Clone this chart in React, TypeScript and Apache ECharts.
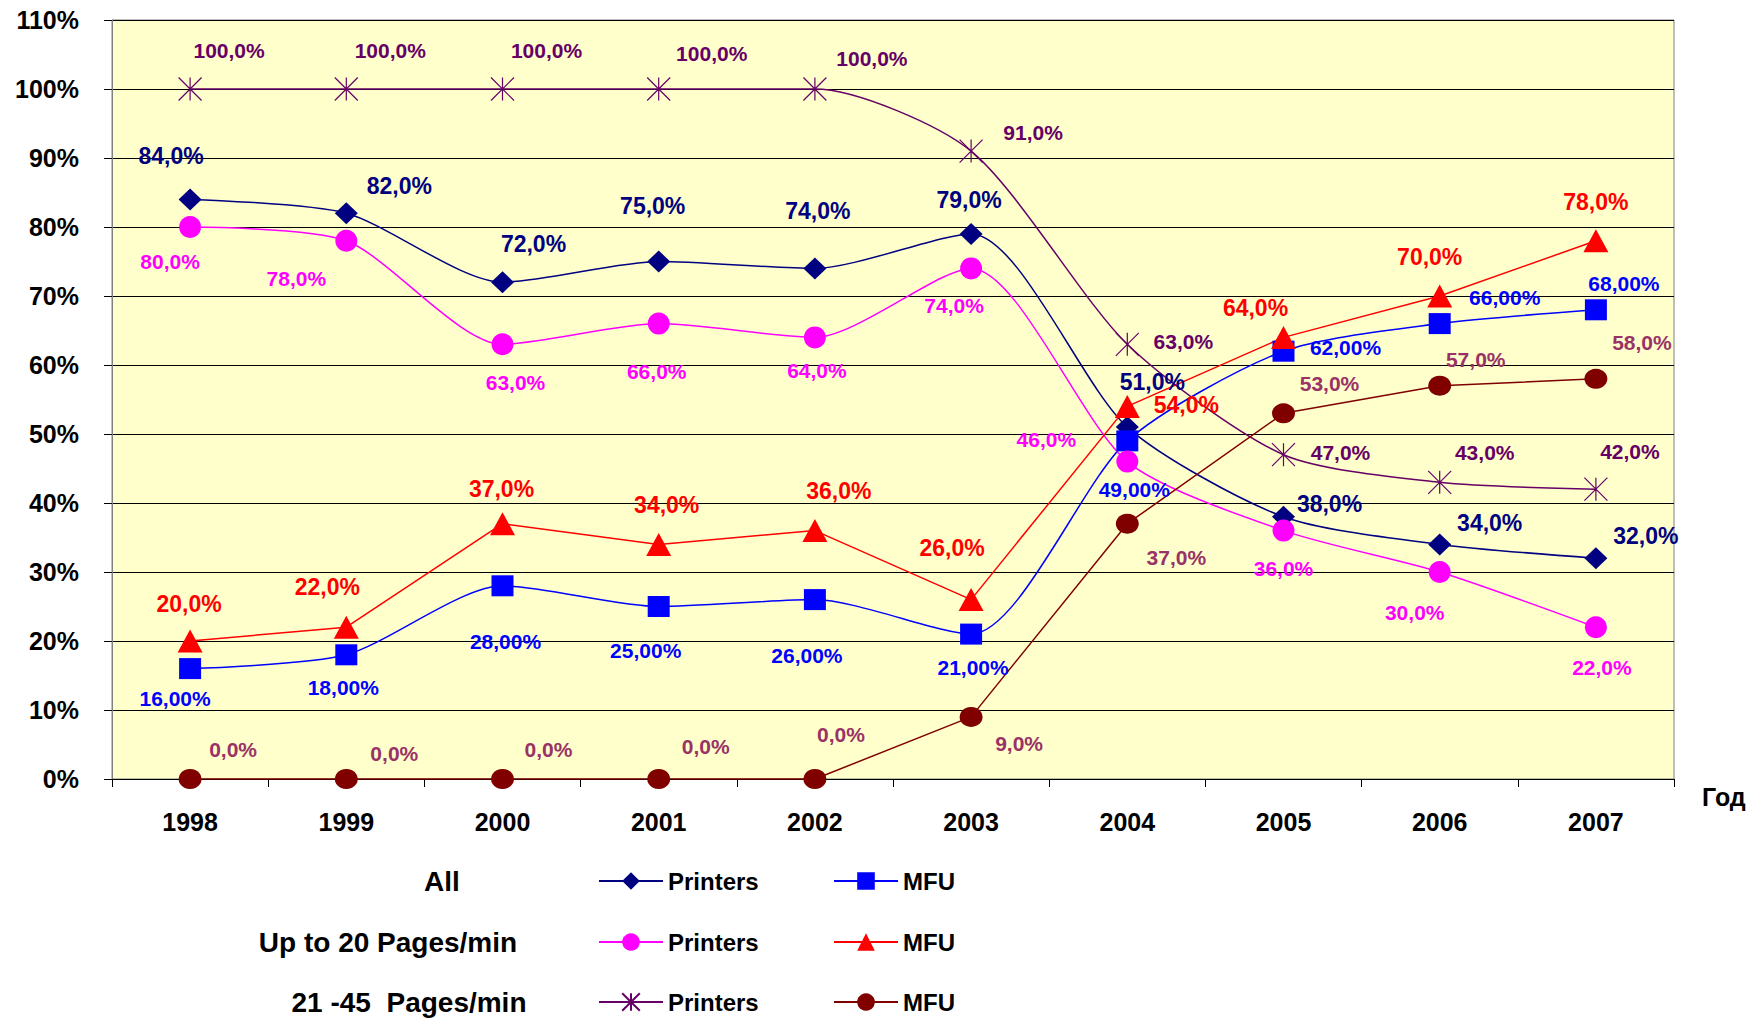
import React, { useEffect, useRef } from "react";
import * as echarts from "echarts";

// ---- data ----
const years = ["1998", "1999", "2000", "2001", "2002", "2003", "2004", "2005", "2006", "2007"];
const allPrinters = [84, 82, 72, 75, 74, 79, 51, 38, 34, 32];
const allMfu = [16, 18, 28, 25, 26, 21, 49, 62, 66, 68];
const upTo20Printers = [80, 78, 63, 66, 64, 74, 46, 36, 30, 22];
const upTo20Mfu = [20, 22, 37, 34, 36, 26, 54, 64, 70, 78];
const mid45Printers = [100, 100, 100, 100, 100, 91, 63, 47, 43, 42];
const mid45Mfu = [0, 0, 0, 0, 0, 9, 37, 53, 57, 58];
const yMin = 0;
const yMax = 110;
const yStep = 10;
const rowTitles = ["All", "Up to 20 Pages/min", "21 -45  Pages/min"];
const axisName = "Год";

// ---- layout (label offsets from each marker, px) ----
const offAllPrinters = [[-19, -43], [53, -27], [31, -38], [-6, -56], [3, -57], [-2, -34], [25, -45], [46, -13], [50, -21], [50, -22]];
const offAllMfu = [[-15, 30], [-3, 33], [3, 56], [-13, 44], [-8, 56], [2, 33], [7, 49], [62, -4], [65, -26], [28, -26]];
const offUp20Printers = [[-20, 34], [-50, 38], [13, 38], [-2, 48], [2, 33], [-17, 37], [-81, -22], [0, 38], [-25, 40], [6, 40]];
const offUp20Mfu = [[-1, -37], [-19, -40], [-1, -35], [8, -39], [24, -40], [-19, -52], [59, -1], [-28, -29], [-10, -39], [0, -39]];
const offMidPrinters = [[39, -39], [44, -39], [44, -39], [53, -36], [57, -31], [62, -19], [56, -3], [57, -2], [45, -30], [34, -38]];
const offMidMfu = [[43, -30], [48, -26], [46, -30], [47, -33], [26, -45], [48, 27], [49, 34], [46, -30], [36, -26], [46, -36]];

const FONT = "Arial, 'Liberation Sans', sans-serif";
const STAR = "path://M0,0L20,20M20,0L0,20M10,0L10,20";

function fmt(v: number, d: number) {
  return v.toFixed(d).replace(".", ",") + "%";
}

function mkSeries(o: any) {
  return {
    name: o.name,
    type: "line",
    smooth: o.smooth,
    symbol: o.symbol,
    symbolSize: o.size,
    lineStyle: { color: o.color, width: 1.5 },
    itemStyle: o.itemStyle || { color: o.color },
    label: {
      show: true,
      position: "inside",
      align: "center",
      verticalAlign: "middle",
      color: o.labelColor,
      fontSize: o.fontSize,
      fontWeight: "bold",
      fontFamily: FONT,
      formatter: (p: any) => fmt(p.value, o.decimals),
    },
    data: o.values.map((v: number, i: number) => ({ value: v, label: { offset: o.offsets[i] } })),
    z: 3,
  };
}

export default function App() {
  const ref = useRef<HTMLDivElement>(null);
  useEffect(() => {
    if (!ref.current) return;
    const chart = echarts.init(ref.current, undefined, { renderer: "svg" });
    const series = [
      mkSeries({ name: "All Printers", values: allPrinters, offsets: offAllPrinters, color: "#000080", symbol: "diamond", size: [23, 22], labelColor: "#000080", fontSize: 23, decimals: 1, smooth: 0.25 }),
      mkSeries({ name: "All MFU", values: allMfu, offsets: offAllMfu, color: "#0000FF", symbol: "rect", size: [22, 21], labelColor: "#0000FF", fontSize: 21, decimals: 2, smooth: 0.25 }),
      mkSeries({ name: "Up20 Printers", values: upTo20Printers, offsets: offUp20Printers, color: "#FF00FF", symbol: "circle", size: 22, labelColor: "#FF00FF", fontSize: 21, decimals: 1, smooth: 0.25 }),
      mkSeries({ name: "Up20 MFU", values: upTo20Mfu, offsets: offUp20Mfu, color: "#FF0000", symbol: "triangle", size: [25, 23], labelColor: "#FF0000", fontSize: 23, decimals: 1, smooth: false }),
      mkSeries({ name: "Mid Printers", values: mid45Printers, offsets: offMidPrinters, color: "#660066", symbol: STAR, size: 23, labelColor: "#660066", fontSize: 21, decimals: 1, smooth: 0.25, itemStyle: { color: "rgba(0,0,0,0)", borderColor: "#660066", borderWidth: 1.2 } }),
      mkSeries({ name: "Mid MFU", values: mid45Mfu, offsets: offMidMfu, color: "#800000", symbol: "circle", size: [23, 20], labelColor: "#993366", fontSize: 21, decimals: 1, smooth: false }),
    ];
    const rowY = [881, 942, 1002];
    const rowX = [442, 388, 409];
    const legendNames = [["All Printers", "All MFU"], ["Up20 Printers", "Up20 MFU"], ["Mid Printers", "Mid MFU"]];
    const legends: any[] = [];
    legendNames.forEach((pair, r) => {
      pair.forEach((nm, c) => {
        legends.push({
          data: [nm],
          left: c === 0 ? 598 : 833,
          top: rowY[r] - 12,
          padding: 0,
          itemWidth: 64,
          itemHeight: 22,
          selectedMode: false,
          formatter: (n: string) => (n.endsWith("Printers") ? "Printers" : "MFU"),
          textStyle: { fontSize: 24, fontWeight: "bold", color: "#000", fontFamily: FONT },
        });
      });
    });
    const option: any = {
      animation: false,
      backgroundColor: "#fff",
      grid: {
        left: 112,
        top: 20,
        right: 84,
        bottom: 243,
        show: true,
        backgroundColor: "#FFFFCC",
        borderColor: "#808080",
        borderWidth: 1,
      },
      xAxis: {
        type: "category",
        data: years,
        boundaryGap: true,
        name: axisName,
        nameLocation: "end",
        nameGap: 28,
        nameTextStyle: { fontSize: 25, fontWeight: "bold", color: "#000", fontFamily: FONT, align: "left", verticalAlign: "top", padding: [5, 0, 0, 0] },
        axisLine: { show: true, lineStyle: { color: "#000", width: 1 } },
        axisTick: { show: true, alignWithLabel: false, length: 8, lineStyle: { color: "#000" } },
        axisLabel: { fontSize: 25, fontWeight: "bold", color: "#000", fontFamily: FONT, margin: 30 },
        splitLine: { show: false },
      },
      yAxis: {
        type: "value",
        min: yMin,
        max: yMax,
        interval: yStep,
        axisLine: { show: true, lineStyle: { color: "#808080", width: 1 } },
        axisTick: { show: true, length: 8, lineStyle: { color: "#000" } },
        axisLabel: { fontSize: 25, fontWeight: "bold", color: "#000", fontFamily: FONT, margin: 33, formatter: "{value}%" },
        splitLine: { show: true, lineStyle: { color: "#000", width: 1 } },
      },
      legend: legends,
      graphic: rowTitles.map((t, i) => ({
        type: "text",
        x: rowX[i],
        y: rowY[i],
        style: { text: t, align: "center", verticalAlign: "middle", fontSize: 28, fontWeight: "bold", fontFamily: FONT, fill: "#000" },
      })),
      series,
    };
    chart.setOption(option);
    return () => chart.dispose();
  }, []);
  return <div ref={ref} style={{ position: "fixed", left: 0, top: 0, width: 1758, height: 1022 }} />;
}
